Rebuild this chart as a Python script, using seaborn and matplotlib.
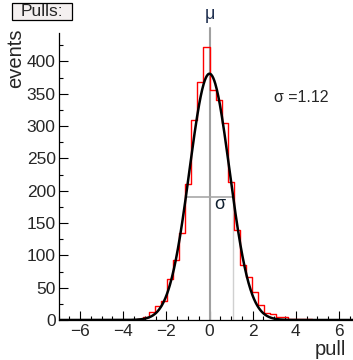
import numpy as np
import pandas as pd
import matplotlib.pyplot as plt
import seaborn as sns
from matplotlib.ticker import MultipleLocator
from matplotlib.patches import Rectangle

sns.set_theme(style="ticks")
plt.rcParams['font.family'] = ['Liberation Sans', 'DejaVu Sans']

# histogram: 50 bins over [-7, 7]
x_range = (-7, 7)
n_bins = 50
counts = [0, 0, 0, 0, 0, 0, 0, 0, 0, 0,
          0, 0, 0, 1, 4, 12, 22, 30, 63, 93,
          135, 210, 310, 368, 423, 356, 340, 304, 214, 140,
          85, 66, 43, 23, 11, 10, 5, 5, 2, 2,
          1, 1, 0, 0, 0, 0, 0, 0, 0, 0]

# gaussian fit parameters
fit_amp = 381
fit_mean = 0.0
fit_sigma = 0.93
sigma_text = "σ =1.12"

bin_edges = np.linspace(x_range[0], x_range[1], n_bins + 1)
centers = (bin_edges[:-1] + bin_edges[1:]) / 2
df = pd.DataFrame({"pull": centers, "events": counts})

xs = np.linspace(-7, 7, 600)
fit = pd.DataFrame({"pull": xs,
                    "events": fit_amp * np.exp(-0.5 * ((xs - fit_mean) / fit_sigma) ** 2)})

W, H = 353, 360
fig = plt.figure(figsize=(W / 100, H / 100), dpi=100)
ax = fig.add_axes([58.5 / W, 40 / H, 302 / W, 287 / H])

sns.histplot(data=df, x="pull", weights="events", bins=n_bins, binrange=x_range,
             element="step", fill=False, color="#ff0000", linewidth=1.0, ax=ax)
sns.lineplot(data=fit, x="pull", y="events", color="black", linewidth=1.8, ax=ax)

# mean / width markers
half = fit_amp / 2
hw = fit_sigma * np.sqrt(2 * np.log(2))
ax.plot([fit_mean, fit_mean], [0, 452], color="#a0a0a0", lw=1.5, clip_on=False, zorder=1)
ax.plot([fit_mean - hw, fit_mean + hw], [half, half], color="#a8a8a8", lw=1.2, zorder=1)
ax.plot([fit_mean + hw, fit_mean + hw], [0, half], color="#d0d0d0", lw=1.0, zorder=1)
ax.text(fit_mean, 460, "μ", ha="center", va="bottom", fontsize=13, color="#203050")
ax.text(0.5, 178, "σ", ha="center", va="center", fontsize=13, color="#102030")
ax.text(3.0, 344, sigma_text, ha="left", va="center", fontsize=11.5)

ax.set_xlim(-7, 7)
ax.set_ylim(0, 444)
sns.despine(ax=ax)
ax.xaxis.set_major_locator(MultipleLocator(2))
ax.xaxis.set_minor_locator(MultipleLocator(0.5))
ax.yaxis.set_major_locator(MultipleLocator(50))
ax.yaxis.set_minor_locator(MultipleLocator(25))
ax.tick_params(which="both", direction="in", color="black", labelsize=12.5)
ax.tick_params(which="major", length=6.5, width=0.8)
ax.tick_params(which="minor", length=3, width=0.8)
ax.tick_params(axis="y", pad=2)
ax.tick_params(axis="x", pad=3)
for s in ax.spines.values():
    s.set_linewidth(0.9)
    s.set_color("black")

ax.set_xlabel("")
ax.set_ylabel("")
fig.text(346 / W, 1 - 340 / H, "pull", ha="right", va="top", fontsize=14.5)
fig.text(16 / W, 1 - 28 / H, "events", ha="center", va="top", rotation=90, fontsize=14.5)

# title box
fig.patches.append(Rectangle((12 / W, 1 - 19.5 / H), 60 / W, 16.5 / H,
                             transform=fig.transFigure, fc="#f4f0f0", ec="black", lw=0.9))
fig.text(42 / W, 1 - 11.5 / H, "Pulls:", ha="center", va="center", fontsize=12.5)

fig.savefig("out.png", dpi=100)
